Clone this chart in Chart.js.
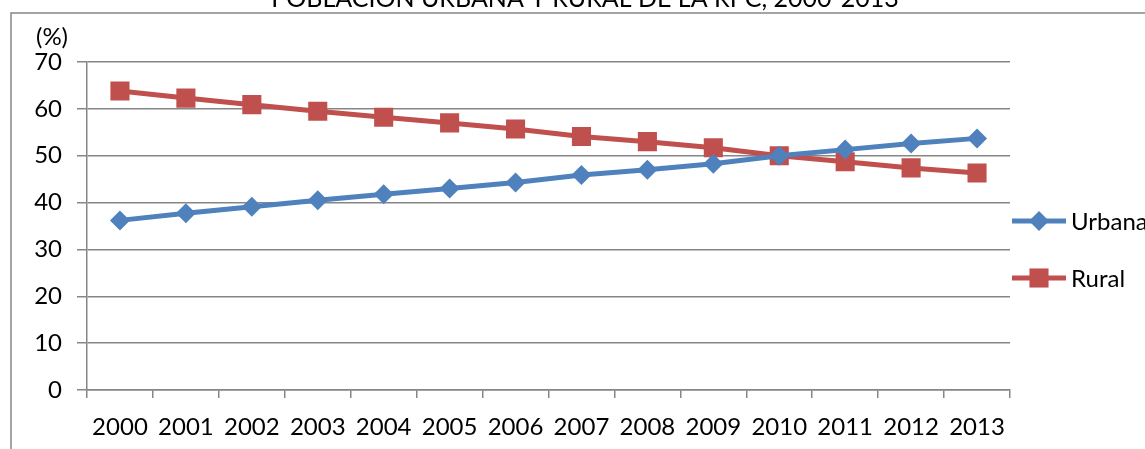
<!DOCTYPE html>
<html>
<head>
<meta charset="utf-8">
<script src="https://cdn.jsdelivr.net/npm/chart.js@4/dist/chart.umd.min.js"></script>
<style>
  html, body { margin: 0; padding: 0; background: #fff; }
  #wrap { width: 1145px; height: 449px; position: relative; }
</style>
</head>
<body>
<div id="wrap"><canvas id="myChart" width="1145" height="449"></canvas></div>
<script>
// Población urbana y rural, 2000-2013 (%)
const years = ['2000', '2001', '2002', '2003', '2004', '2005', '2006', '2007', '2008', '2009', '2010', '2011', '2012', '2013'];
const urbana = [36.2, 37.7, 39.1, 40.5, 41.8, 43.0, 44.3, 45.9, 47.0, 48.3, 50.0, 51.3, 52.6, 53.7];
const rural = [63.8, 62.3, 60.9, 59.5, 58.2, 57.0, 55.7, 54.1, 53.0, 51.7, 50.0, 48.7, 47.4, 46.3];
const yTicks = [0, 10, 20, 30, 40, 50, 60, 70];

const titleText = 'POBLACIÓN URBANA Y RURAL DE LA RPC, 2000-2013';
const fontFamily = 'Lato, "Open Sans", sans-serif';
const fontSize = 24;
const gray = '#868686';
const blue = '#4F81BD';
const red = '#C0504D';

// frame, cut-off title, "(%)" label and the legend with line + marker
const decor = {
    id: 'decor',
    afterDraw(chart) {
        const ctx = chart.ctx;
        const area = chart.chartArea;
        ctx.save();

        ctx.strokeStyle = gray;
        ctx.lineWidth = 1.5;
        ctx.beginPath();
        ctx.moveTo(11, 449);
        ctx.lineTo(11, 13);
        ctx.lineTo(1145, 13);
        ctx.stroke();

        ctx.fillStyle = '#000';
        ctx.font = '25px ' + fontFamily;
        ctx.textAlign = 'center';
        ctx.textBaseline = 'alphabetic';
        ctx.fillText(titleText, 585, 7);

        ctx.font = fontSize + 'px ' + fontFamily;
        ctx.textBaseline = 'middle';
        ctx.fillText('(%)', 52, 37);

        // legend
        const items = chart.data.datasets;
        const lx = area.right + 2;
        let ly = 221;
        items.forEach(ds => {
            ctx.strokeStyle = ds.borderColor;
            ctx.lineWidth = ds.borderWidth;
            ctx.beginPath();
            ctx.moveTo(lx, ly);
            ctx.lineTo(lx + 54, ly);
            ctx.stroke();
            ctx.fillStyle = ds.pointBackgroundColor;
            Chart.helpers.drawPoint(ctx, {
                pointStyle: ds.pointStyle,
                radius: ds.pointRadius,
                rotation: 0,
                borderWidth: 0
            }, lx + 27, ly);
            ctx.fillStyle = '#000';
            ctx.textAlign = 'left';
            ctx.fillText(ds.label, lx + 59, ly + 1);
            ly += 57;
        });
        ctx.restore();
    }
};

const ctx = document.getElementById('myChart').getContext('2d');
const myChart = new Chart(ctx, {
    type: 'line',
    data: {
        labels: years,
        datasets: [
            {
                label: 'Urbana',
                data: urbana,
                borderColor: blue,
                backgroundColor: blue,
                pointBackgroundColor: blue,
                pointBorderColor: blue,
                borderWidth: 5,
                pointStyle: 'rectRot',
                pointRadius: 10,
                pointBorderWidth: 0,
                tension: 0
            },
            {
                label: 'Rural',
                data: rural,
                borderColor: red,
                backgroundColor: red,
                pointBackgroundColor: red,
                pointBorderColor: red,
                borderWidth: 5,
                pointStyle: 'rect',
                pointRadius: 13.5,
                pointBorderWidth: 0,
                tension: 0
            }
        ]
    },
    options: {
        responsive: false,
        animation: false,
        events: [],
        layout: {
            padding: { left: 0, top: 62, right: 135, bottom: 0 }
        },
        plugins: {
            legend: { display: false },
            title: { display: false },
            tooltip: { enabled: false }
        },
        scales: {
            x: {
                offset: true,
                grid: {
                    offset: true,
                    drawOnChartArea: false,
                    drawTicks: true,
                    tickLength: 8,
                    color: gray,
                    lineWidth: 1.5
                },
                border: { display: true, color: gray, width: 1.5 },
                ticks: {
                    color: '#000',
                    font: { family: fontFamily, size: fontSize },
                    padding: 15,
                    maxRotation: 0,
                    autoSkip: false
                },
                afterFit(scale) { scale.height = 59; }
            },
            y: {
                min: 0,
                max: 70,
                afterBuildTicks(scale) {
                    scale.ticks = yTicks.map(v => ({ value: v }));
                },
                grid: {
                    color: gray,
                    lineWidth: 1.5,
                    tickLength: 10
                },
                border: { display: true, color: gray, width: 1.5 },
                ticks: {
                    color: '#000',
                    font: { family: fontFamily, size: fontSize },
                    padding: 15
                },
                afterFit(scale) { scale.width = 87; }
            }
        }
    },
    plugins: [decor]
});
</script>
</body>
</html>
